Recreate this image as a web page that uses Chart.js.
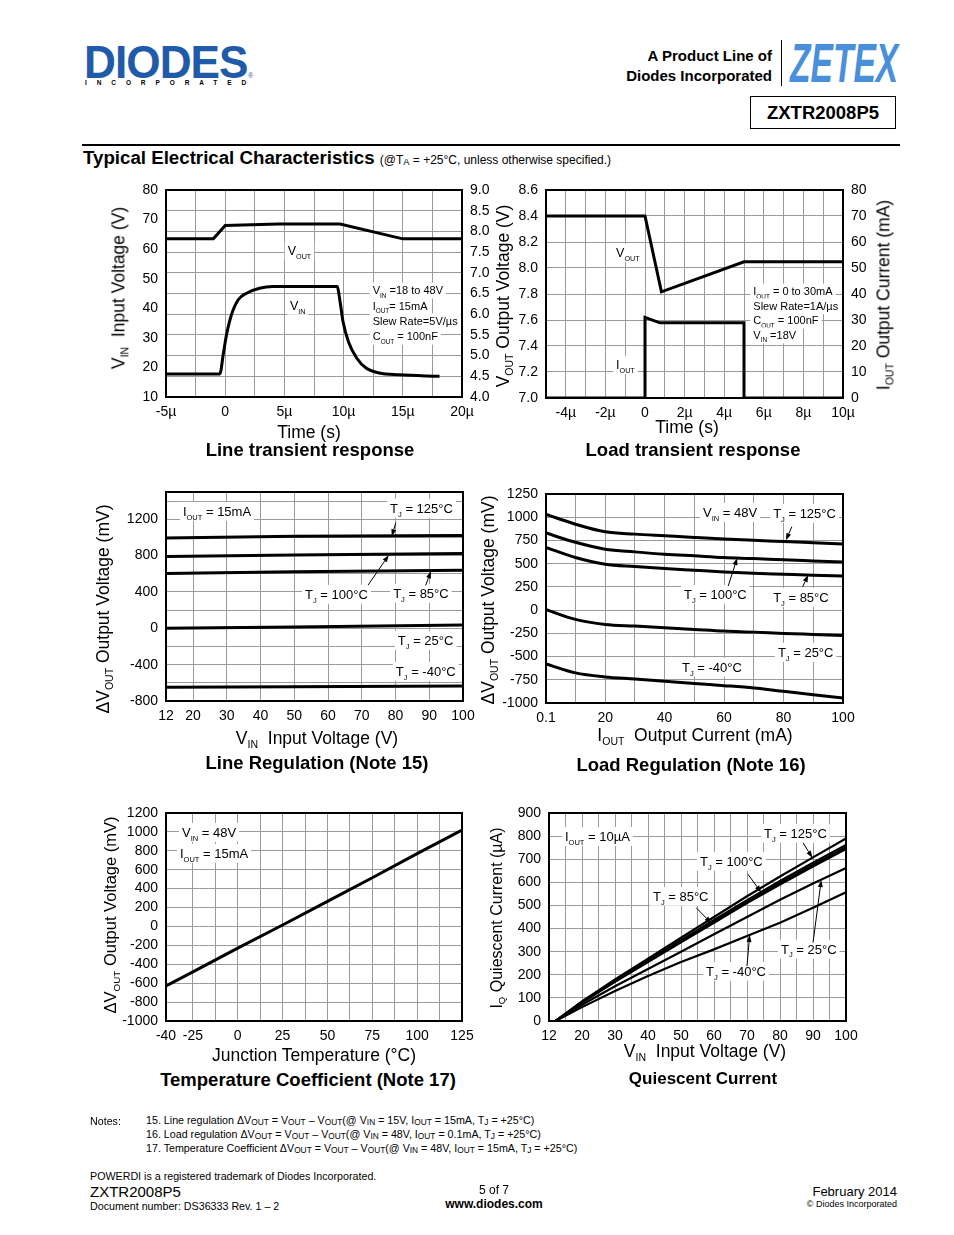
<!DOCTYPE html>
<html>
<head>
<meta charset="utf-8">
<script src="https://cdn.jsdelivr.net/npm/chart.js@4.4.0/dist/chart.umd.min.js"></script>
<style>
body { margin: 0; background: #fff; font-family: "Liberation Sans", Arial, sans-serif; color: #000; }
#page { position: relative; width: 954px; height: 1235px; overflow: hidden; }
.t { position: absolute; white-space: nowrap; line-height: 1; }
.l { transform: translateY(-50%); }
.c { transform: translate(-50%, -50%); }
.rot { transform: translate(-50%, -50%) rotate(-90deg); }
.s { font-size: 0.6em; vertical-align: -0.35em; }
.s2 { font-size: 0.78em; vertical-align: -0.15em; }
.b { font-weight: bold; }
canvas { position: absolute; }
</style>
</head>
<body>
<div id="page">
  <!-- header -->
  <div class="t b" style="left:84px;top:39px;font-size:46px;color:#1f5ba8;letter-spacing:-1px;transform-origin:0 0;transform:scaleX(0.96)">DIODES</div>
  <div class="t" style="left:248px;top:72px;font-size:7px;color:#1f5ba8">&reg;</div>
  <div class="t b l" style="left:85px;top:83px;font-size:6.5px;letter-spacing:9.9px">INCORPORATED</div>
  <div class="t b l" style="right:182px;top:55px;font-size:15px">A Product Line of</div>
  <div class="t b l" style="right:182px;top:75px;font-size:15px">Diodes Incorporated</div>
  <div style="position:absolute;left:781px;top:40px;width:1px;height:46px;background:#000"></div>
  <div class="t b" style="left:790px;top:35px;font-size:56px;font-style:italic;color:#4a8fd9;transform-origin:0 0;transform:scaleX(0.6)">ZETEX</div>
  <div style="position:absolute;left:750px;top:96px;width:144px;height:31px;border:1.5px solid #000"></div>
  <div class="t b c" style="left:823px;top:113px;font-size:18.5px">ZXTR2008P5</div>
  <div style="position:absolute;left:82px;top:144px;width:818px;height:2px;background:#000"></div>
  <div class="t b l" style="left:83px;top:158px;font-size:18.7px">Typical Electrical Characteristics <span style="font-weight:normal;font-size:12px">(@T<span class="s2">A</span> = +25°C, unless otherwise specified.)</span></div>

  <canvas id="c1"></canvas>
  <canvas id="c2"></canvas>
  <canvas id="c3"></canvas>
  <canvas id="c4"></canvas>
  <canvas id="c5"></canvas>
  <canvas id="c6"></canvas>

  <!-- axis titles -->
  <div class="t rot" style="left:120px;top:288px;font-size:17.5px">V<span class="s">IN</span>&nbsp; Input Voltage (V)</div>
  <div class="t rot" style="left:505px;top:296px;font-size:17.5px">V<span class="s">OUT</span> Output Voltage (V)</div>
  <div class="t rot" style="left:885px;top:295px;font-size:17.5px">I<span class="s">OUT</span> Output Current (mA)</div>
  <div class="t c" style="left:309px;top:433px;font-size:17.5px">Time (s)</div>
  <div class="t c" style="left:687px;top:428px;font-size:17.5px">Time (s)</div>
  <div class="t b c" style="left:310px;top:450px;font-size:18.5px">Line transient response</div>
  <div class="t b c" style="left:693px;top:450px;font-size:18.5px">Load transient response</div>

  <div class="t rot" style="left:105px;top:609px;font-size:17.5px">&Delta;V<span class="s">OUT</span> Output Voltage (mV)</div>
  <div class="t rot" style="left:490px;top:600px;font-size:17.5px">&Delta;V<span class="s">OUT</span> Output Voltage (mV)</div>
  <div class="t c" style="left:317px;top:740px;font-size:17.5px">V<span class="s">IN</span>&nbsp; Input Voltage (V)</div>
  <div class="t c" style="left:695px;top:737px;font-size:17.5px">I<span class="s">OUT</span>&nbsp; Output Current (mA)</div>
  <div class="t b c" style="left:317px;top:763px;font-size:18.5px">Line Regulation (Note 15)</div>
  <div class="t b c" style="left:691px;top:765px;font-size:18.5px">Load Regulation (Note 16)</div>

  <div class="t rot" style="left:112px;top:915px;font-size:16.5px">&Delta;V<span class="s">OUT</span> Output Voltage (mV)</div>
  <div class="t rot" style="left:498px;top:918px;font-size:16px">I<span class="s">Q</span> Quiescent Current (&micro;A)</div>
  <div class="t c" style="left:314px;top:1056px;font-size:17.5px">Junction Temperature (°C)</div>
  <div class="t c" style="left:705px;top:1053px;font-size:17.5px">V<span class="s">IN</span>&nbsp; Input Voltage (V)</div>
  <div class="t b c" style="left:308px;top:1080px;font-size:18.5px">Temperature Coefficient (Note 17)</div>
  <div class="t b c" style="left:703px;top:1078px;font-size:17px">Quiescent Current</div>

  <!-- notes / footer -->
  <div class="t l" style="left:90px;top:1121px;font-size:10.7px">Notes:</div>
  <div class="t l" style="left:146px;top:1121px;font-size:10.7px">15. Line regulation &Delta;V<span class="s2">OUT</span> = V<span class="s2">OUT</span> &ndash; V<span class="s2">OUT</span>(@ V<span class="s2">IN</span> = 15V, I<span class="s2">OUT</span> = 15mA, T<span class="s2">J</span> = +25°C)</div>
  <div class="t l" style="left:146px;top:1135px;font-size:10.7px">16. Load regulation &Delta;V<span class="s2">OUT</span> = V<span class="s2">OUT</span> &ndash; V<span class="s2">OUT</span>(@ V<span class="s2">IN</span> = 48V, I<span class="s2">OUT</span> = 0.1mA, T<span class="s2">J</span> = +25°C)</div>
  <div class="t l" style="left:146px;top:1149px;font-size:10.7px">17. Temperature Coefficient &Delta;V<span class="s2">OUT</span> = V<span class="s2">OUT</span> &ndash; V<span class="s2">OUT</span>(@ V<span class="s2">IN</span> = 48V, I<span class="s2">OUT</span> = 15mA, T<span class="s2">J</span> = +25°C)</div>
  <div class="t l" style="left:90px;top:1176px;font-size:10.7px">POWERDI is a registered trademark of Diodes Incorporated.</div>
  <div class="t l" style="left:90px;top:1191px;font-size:15px">ZXTR2008P5</div>
  <div class="t l" style="left:90px;top:1206px;font-size:10.7px">Document number: DS36333 Rev. 1 &ndash; 2</div>
  <div class="t c" style="left:494px;top:1190px;font-size:12px">5 of 7</div>
  <div class="t b c" style="left:494px;top:1204px;font-size:12px">www.diodes.com</div>
  <div class="t l" style="right:57px;top:1191px;font-size:13px">February 2014</div>
  <div class="t l" style="right:57px;top:1204px;font-size:9px">&copy; Diodes Incorporated</div>
</div>

<script>
// ---------- data ----------

// Line transient response (time in µs)
const ltTicksX = [-5, -2.5, 0, 2.5, 5, 7.5, 10, 12.5, 15, 17.5, 20];
const ltLabelsX = ['-5µ', '', '0', '', '5µ', '', '10µ', '', '15µ', '', '20µ'];
const ltTicksVin = [10, 20, 30, 40, 50, 60, 70, 80];
const ltLabelsVin = ['10', '20', '30', '40', '50', '60', '70', '80'];
const ltTicksVout = [4, 4.5, 5, 5.5, 6, 6.5, 7, 7.5, 8, 8.5, 9];
const ltLabelsVout = ['4.0', '4.5', '5.0', '5.5', '6.0', '6.5', '7.0', '7.5', '8.0', '8.5', '9.0'];
const ltVinTime = [-5, -0.45, -0.17, 0.11, 0.53, 1.1, 1.8, 2.9, 4.0, 9.45, 9.7, 9.95, 10.4, 11.1, 11.9, 13.0, 14.7, 18.1];
const ltVin = [17.8, 17.8, 24.3, 31.0, 37.8, 42.9, 45.1, 46.8, 47.4, 47.4, 42.3, 35.5, 28.8, 23.2, 19.8, 18.1, 17.5, 17.0];
const ltVoutTime = [-5, -1, 0, 4.5, 9.7, 15, 20];
const ltVout = [7.82, 7.82, 8.14, 8.18, 8.18, 7.82, 7.82];

// Load transient response
const ldTicksX = [-5, -4, -3, -2, -1, 0, 1, 2, 3, 4, 5, 6, 7, 8, 9, 10];
const ldLabelsX = ['', '-4µ', '', '-2µ', '', '0', '', '2µ', '', '4µ', '', '6µ', '', '8µ', '', '10µ'];
const ldTicksVout = [7.0, 7.2, 7.4, 7.6, 7.8, 8.0, 8.2, 8.4, 8.6];
const ldLabelsVout = ['7.0', '7.2', '7.4', '7.6', '7.8', '8.0', '8.2', '8.4', '8.6'];
const ldTicksIout = [0, 10, 20, 30, 40, 50, 60, 70, 80];
const ldLabelsIout = ['0', '10', '20', '30', '40', '50', '60', '70', '80'];
const ldVoutTime = [-5, 0, 0.83, 5.0, 10];
const ldVout = [8.4, 8.4, 7.817, 8.048, 8.048];
const ldIoutTime = [-5, 0, 0, 0.75, 5.0, 5.0, 10];
const ldIout = [0, 0, 31, 28.9, 28.9, 0, 0];

// Line regulation (ΔVOUT in mV vs VIN)
const lrTicksX = [12, 20, 30, 40, 50, 60, 70, 80, 90, 100];
const lrLabelsX = ['12', '20', '30', '40', '50', '60', '70', '80', '90', '100'];
const lrTicksY = [-800, -600, -400, -200, 0, 200, 400, 600, 800, 1000, 1200, 1400, 1500];
const lrLabelsY = ['-800', '', '-400', '', '0', '', '400', '', '800', '', '1200', '', ''];
const lrVin = [12, 50, 100];
const lr125 = [995, 1012, 1022];
const lr100 = [790, 808, 823];
const lr85 = [603, 621, 640];
const lr25 = [0, 14, 35];
const lrM40 = [-650, -643, -635];

// Load regulation (ΔVOUT in mV vs IOUT)
const gTicksX = [0.1, 10, 20, 30, 40, 50, 60, 70, 80, 90, 100];
const gLabelsX = ['0.1', '', '20', '', '40', '', '60', '', '80', '', '100'];
const gTicksY = [-1000, -750, -500, -250, 0, 250, 500, 750, 1000, 1250];
const gLabelsY = ['-1000', '-750', '-500', '-250', '0', '250', '500', '750', '1000', '1250'];
const gIout = [0.1, 10, 20, 30, 40, 50, 60, 70, 80, 90, 100];
const g125 = [1030, 925, 843, 818, 800, 782, 765, 752, 738, 725, 712];
const g100 = [830, 730, 656, 627, 602, 584, 566, 555, 541, 530, 519];
const g85 = [675, 566, 494, 469, 447, 429, 411, 397, 386, 375, 368];
const g25 = [5, -100, -154, -172, -190, -208, -226, -237, -251, -262, -273];
const gM40 = [-580, -676, -719, -741, -766, -791, -813, -838, -874, -910, -946];

// Temperature coefficient
const tcTicksX = [-40, -25, -12.5, 0, 12.5, 25, 37.5, 50, 62.5, 75, 87.5, 100, 112.5, 125];
const tcLabelsX = ['-40', '-25', '', '0', '', '25', '', '50', '', '75', '', '100', '', '125'];
const tcTicksY = [-1000, -800, -600, -400, -200, 0, 200, 400, 600, 800, 1000, 1200];
const tcLabelsY = ['-1000', '-800', '-600', '-400', '-200', '0', '200', '400', '600', '800', '1000', '1200'];
const tcTemp = [-40, -25, 0, 25, 50, 75, 100, 125];
const tcDv = [-630, -480, -230, 15, 265, 515, 770, 1020];

// Quiescent current (µA vs VIN)
const qTicksX = [10, 15, 20, 25, 30, 35, 40, 45, 50, 55, 60, 65, 70, 75, 80, 85, 90, 95, 100];
const qLabelsX = ['12', '', '20', '', '30', '', '40', '', '50', '', '60', '', '70', '', '80', '', '90', '', '100'];
const qTicksY = [0, 100, 200, 300, 400, 500, 600, 700, 800, 900];
const qLabelsY = ['0', '100', '200', '300', '400', '500', '600', '700', '800', '900'];
const qVin = [12, 20, 30, 40, 50, 60, 70, 80, 90, 100];
const q125 = [0, 85, 180, 270, 360, 450, 540, 625, 708, 790];
const q100 = [0, 83, 175, 262, 350, 437, 523, 606, 685, 762];
const q85 = [0, 82, 172, 258, 344, 430, 515, 597, 675, 752];
const qOther = [0, 80, 170, 255, 340, 425, 510, 590, 668, 744];
const q25 = [0, 70, 150, 225, 300, 375, 450, 525, 595, 662];
const qM40 = [0, 60, 130, 195, 255, 310, 368, 425, 490, 557];

// ---------- helpers ----------
Chart.defaults.font.family = '"Liberation Sans", Arial, sans-serif';
Chart.defaults.font.size = 14;
Chart.defaults.color = '#000';

// fixed axis sizes so the plot box lands where the page wants it
const YL = 60, YR = 50, XH = 30, PT = 18;

function axis(position, min, max, values, labels, grid) {
    const vertical = position === 'left' || position === 'right';
    return {
        type: 'linear', position, min, max,
        afterBuildTicks: (s) => { s.ticks = values.map((v) => ({ value: v })); },
        afterFit: (s) => {
            if (vertical) s.width = position === 'left' ? YL : YR;
            else s.height = XH;
        },
        ticks: { autoSkip: false, maxRotation: 0, minRotation: 0, padding: vertical ? 8 : 7, callback: (v, i) => labels[i] },
        grid: { display: grid, color: '#9a9a9a', lineWidth: 1, drawTicks: false },
        border: { display: false },
    };
}

function series(xs, ys, extra) {
    return Object.assign({
        data: xs.map((x, i) => ({ x, y: ys[i] })),
        borderColor: '#000', borderWidth: 3, pointRadius: 0, fill: false, tension: 0,
    }, extra || {});
}

// text with _{sub} parts, centred vertically on y
function drawRich(ctx, x, y, str, size) {
    const parts = [];
    str.split(/(_\{[^}]*\})/).forEach((p) => {
        if (!p) return;
        if (p.startsWith('_{')) parts.push({ t: p.slice(2, -1), sub: true });
        else parts.push({ t: p, sub: false });
    });
    const main = size + 'px "Liberation Sans", Arial, sans-serif';
    const small = (size * 0.58).toFixed(1) + 'px "Liberation Sans", Arial, sans-serif';
    let w = 0;
    parts.forEach((p) => { ctx.font = p.sub ? small : main; p.w = ctx.measureText(p.t).width; w += p.w; });
    ctx.fillStyle = '#fff';
    ctx.fillRect(x - 3, y - size * 0.7, w + 6, size * 1.45);
    ctx.fillStyle = '#000';
    ctx.textBaseline = 'alphabetic';
    ctx.textAlign = 'left';
    let cx = x;
    const base = y + size * 0.36;
    parts.forEach((p) => {
        ctx.font = p.sub ? small : main;
        ctx.fillText(p.t, cx, base + (p.sub ? size * 0.3 : 0));
        cx += p.w;
    });
}

function drawArrow(ctx, x1, y1, x2, y2) {
    const a = Math.atan2(y2 - y1, x2 - x1), hl = 7, hw = 2.5;
    const bx = x2 - hl * Math.cos(a), by = y2 - hl * Math.sin(a);
    ctx.strokeStyle = '#000';
    ctx.lineWidth = 1;
    ctx.beginPath(); ctx.moveTo(x1, y1); ctx.lineTo(bx, by); ctx.stroke();
    ctx.beginPath();
    ctx.moveTo(x2, y2);
    ctx.lineTo(bx + hw * Math.sin(a), by - hw * Math.cos(a));
    ctx.lineTo(bx - hw * Math.sin(a), by + hw * Math.cos(a));
    ctx.closePath();
    ctx.fillStyle = '#000';
    ctx.fill();
}

// labels / arrows in data units plus the heavy frame round the plot
function notesPlugin(labels, arrows) {
    return {
        id: 'notes',
        beforeDatasetsDraw(chart) {
            const ctx = chart.ctx, sx = chart.scales.x, sy = chart.scales.y;
            ctx.save();
            labels.forEach((l) => drawRich(ctx, sx.getPixelForValue(l.x), sy.getPixelForValue(l.y), l.text, l.size || 13));
            ctx.restore();
        },
        afterDatasetsDraw(chart) {
            const ctx = chart.ctx, sx = chart.scales.x, sy = chart.scales.y;
            ctx.save();
            arrows.forEach((a) => drawArrow(ctx, sx.getPixelForValue(a[0]), sy.getPixelForValue(a[1]),
                sx.getPixelForValue(a[2]), sy.getPixelForValue(a[3])));
            const ca = chart.chartArea;
            ctx.lineWidth = 2;
            ctx.strokeStyle = '#000';
            ctx.strokeRect(ca.left, ca.top, ca.right - ca.left, ca.bottom - ca.top);
            ctx.restore();
        },
    };
}

function makeChart(id, box, scales, datasets, labels, arrows) {
    const hasRight = !!scales.y2;
    const pr = hasRight ? 0 : 24;
    const w = box.r - box.l + YL + (hasRight ? YR : 0) + pr;
    const h = box.b - box.t + PT + XH;
    const cv = document.getElementById(id);
    cv.width = w;
    cv.height = h;
    cv.style.left = (box.l - YL) + 'px';
    cv.style.top = (box.t - PT) + 'px';
    cv.style.width = w + 'px';
    cv.style.height = h + 'px';
    return new Chart(cv, {
        type: 'line',
        data: { datasets },
        options: {
            responsive: false,
            animation: false,
            events: [],
            layout: { padding: { top: PT, right: pr, left: 0, bottom: 0 } },
            plugins: { legend: { display: false }, tooltip: { enabled: false } },
            scales,
        },
        plugins: [notesPlugin(labels || [], arrows || [])],
    });
}

// ---------- charts ----------
makeChart('c1', { l: 166, t: 190, r: 462, b: 397 }, {
    x: axis('bottom', -5, 20, ltTicksX, ltLabelsX, true),
    y: axis('left', 10, 80, ltTicksVin, ltLabelsVin, false),
    y2: axis('right', 4, 9, ltTicksVout, ltLabelsVout, true),
}, [
    series(ltVinTime, ltVin, { yAxisID: 'y', cubicInterpolationMode: 'monotone' }),
    series(ltVoutTime, ltVout, { yAxisID: 'y2' }),
], [
    { x: 5.28, y: 59.6, text: 'V_{OUT}', size: 12.5 },
    { x: 5.47, y: 41.0, text: 'V_{IN}', size: 12.5 },
    { x: 12.46, y: 46.1, text: 'V_{IN} =18 to 48V', size: 11 },
    { x: 12.46, y: 40.9, text: 'I_{OUT}= 15mA', size: 11 },
    { x: 12.46, y: 35.7, text: 'Slew Rate=5V/µs', size: 11 },
    { x: 12.46, y: 30.5, text: 'C_{OUT} = 100nF', size: 11 },
]);

makeChart('c2', { l: 546, t: 190, r: 843, b: 398 }, {
    x: axis('bottom', -5, 10, ldTicksX, ldLabelsX, true),
    y: axis('left', 7.0, 8.6, ldTicksVout, ldLabelsVout, true),
    y2: axis('right', 0, 80, ldTicksIout, ldLabelsIout, false),
}, [
    series(ldVoutTime, ldVout, { yAxisID: 'y' }),
    series(ldIoutTime, ldIout, { yAxisID: 'y2' }),
], [
    { x: -1.46, y: 8.12, text: 'V_{OUT}', size: 12.5 },
    { x: -1.46, y: 7.256, text: 'I_{OUT}', size: 12.5 },
    { x: 5.47, y: 7.82, text: 'I_{OUT} = 0 to 30mA', size: 11 },
    { x: 5.47, y: 7.708, text: 'Slew Rate=1A/µs', size: 11 },
    { x: 5.47, y: 7.596, text: 'C_{OUT} = 100nF', size: 11 },
    { x: 5.47, y: 7.484, text: 'V_{IN} =18V', size: 11 },
]);

makeChart('c3', { l: 166, t: 492, r: 463, b: 701 }, {
    x: axis('bottom', 12, 100, lrTicksX, lrLabelsX, true),
    y: axis('left', -800, 1500, lrTicksY, lrLabelsY, true),
}, [
    series(lrVin, lr125), series(lrVin, lr100), series(lrVin, lr85),
    series(lrVin, lr25), series(lrVin, lrM40),
], [
    { x: 17.0, y: 1291, text: 'I_{OUT} = 15mA' },
    { x: 78.4, y: 1324, text: 'T_{J} = 125°C' },
    { x: 53.2, y: 378, text: 'T_{J} = 100°C' },
    { x: 79.3, y: 389, text: 'T_{J} = 85°C' },
    { x: 80.7, y: -129, text: 'T_{J} = 25°C' },
    { x: 80.1, y: -470, text: 'T_{J} = -40°C' },
], [
    [80.1, 1162, 78.9, 1013],
    [71.9, 477, 78.0, 805],
    [88.95, 473, 90.5, 628],
]);

makeChart('c4', { l: 546, t: 494, r: 843, b: 703 }, {
    x: axis('bottom', 0.1, 100, gTicksX, gLabelsX, true),
    y: axis('left', -1000, 1250, gTicksY, gLabelsY, true),
}, [
    series(gIout, g125, { cubicInterpolationMode: 'monotone' }),
    series(gIout, g100, { cubicInterpolationMode: 'monotone' }),
    series(gIout, g85, { cubicInterpolationMode: 'monotone' }),
    series(gIout, g25, { cubicInterpolationMode: 'monotone' }),
    series(gIout, gM40, { cubicInterpolationMode: 'monotone' }),
], [
    { x: 52.9, y: 1056, text: 'V_{IN} = 48V' },
    { x: 76.5, y: 1045, text: 'T_{J} = 125°C' },
    { x: 46.5, y: 173, text: 'T_{J} = 100°C' },
    { x: 76.5, y: 141, text: 'T_{J} = 85°C' },
    { x: 78.1, y: -451, text: 'T_{J} = 25°C' },
    { x: 45.85, y: -612, text: 'T_{J} = -40°C' },
], [
    [82.8, 898, 80.8, 752],
    [61.4, 260, 64.4, 560],
    [86.45, 252, 88.3, 378],
]);

makeChart('c5', { l: 166, t: 813, r: 462, b: 1021 }, {
    x: axis('bottom', -40, 125, tcTicksX, tcLabelsX, true),
    y: axis('left', -1000, 1200, tcTicksY, tcLabelsY, true),
}, [
    series(tcTemp, tcDv),
], [
    { x: -31.1, y: 999, text: 'V_{IN} = 48V' },
    { x: -32.2, y: 777, text: 'I_{OUT} = 15mA' },
]);

makeChart('c6', { l: 549, t: 813, r: 846, b: 1021 }, {
    x: axis('bottom', 10, 100, qTicksX, qLabelsX, true),
    y: axis('left', 0, 900, qTicksY, qLabelsY, true),
}, [
    series(qVin, q125, { borderWidth: 2.2 }),
    series(qVin, q100, { borderWidth: 2.2 }),
    series(qVin, q85, { borderWidth: 2.2 }),
    series(qVin, qOther, { borderWidth: 2.2 }),
    series(qVin, q25, { borderWidth: 2.2 }),
    series(qVin, qM40, { borderWidth: 2.2 }),
], [
    { x: 14.85, y: 800, text: 'I_{OUT} = 10µA' },
    { x: 75.15, y: 813, text: 'T_{J} = 125°C' },
    { x: 55.75, y: 692, text: 'T_{J} = 100°C' },
    { x: 41.5, y: 541, text: 'T_{J} = 85°C' },
    { x: 80.3, y: 312, text: 'T_{J} = 25°C' },
    { x: 57.6, y: 216, text: 'T_{J} = -40°C' },
], [
    [87, 771, 89.8, 706],
    [70.3, 635, 74.3, 556],
    [54.6, 490, 59.2, 423],
    [90, 339, 92.5, 610],
    [70, 238, 70.8, 372],
]);
</script>
</body>
</html>
